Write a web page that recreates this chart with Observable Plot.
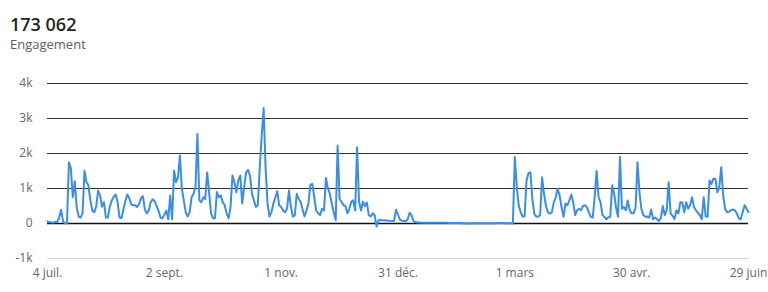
<!DOCTYPE html>
<html><head><meta charset="utf-8">
<script src="https://cdn.jsdelivr.net/npm/d3@7"></script>
<script src="https://cdn.jsdelivr.net/npm/@observablehq/plot@0.6"></script>
<style>
body{margin:0;background:#fff;font-family:"Segoe UI","Open Sans",sans-serif;}
#head{height:60px;position:relative;}
#title{position:absolute;left:10px;top:15px;font-size:18px;line-height:1;font-weight:600;color:#252423;}
#sub{position:absolute;left:10px;top:38px;font-size:13px;line-height:1;color:#605e5c;}
#chart svg{display:block;}
</style></head><body>
<div id="head"><div id="title">173 062</div><div id="sub">Engagement</div></div>
<div id="chart"></div>
<script>
const startDate = [2022, 6, 4]; // 4 juil. 2022, one value per day
const values = [
  60,40,30,30,40,50,170,390,60,10,
  10,1750,1580,750,1210,470,200,170,290,1500,
  1180,1100,660,370,320,480,940,800,480,610,
  170,170,470,660,760,830,610,170,150,400,
  650,830,720,550,520,520,470,550,720,780,
  400,290,370,610,690,640,500,370,170,150,
  250,370,120,800,120,1510,1180,1320,1940,990,
  660,320,200,320,750,850,1040,2560,660,610,
  750,700,1460,890,290,150,150,900,750,800,
  610,520,290,150,470,1370,1180,890,1230,1370,
  570,1040,1460,1530,1370,850,660,470,520,1600,
  2500,3300,1600,570,200,320,570,750,920,520,
  470,370,320,420,940,470,200,230,850,700,
  620,400,200,370,570,1110,1130,750,370,290,
  240,420,370,1300,1000,850,570,320,90,2230,
  700,620,520,500,290,420,620,660,370,2180,
  620,370,620,500,600,240,200,290,240,-86,
  90,100,90,90,85,80,75,70,80,390,
  250,110,80,70,70,120,310,230,70,40,
  30,30,25,25,25,20,20,20,20,25,
  25,20,20,20,20,20,15,15,15,15,
  15,20,15,10,5,0,0,5,10,5,
  5,10,10,10,10,10,5,5,5,10,
  10,15,15,15,15,10,10,5,5,0,
  1900,1040,520,320,200,200,1230,1440,1460,700,
  280,200,190,240,1320,850,500,320,280,320,
  600,750,990,800,470,190,570,520,660,830,
  600,240,380,420,380,500,520,470,320,190,
  170,750,1500,750,610,240,190,120,180,190,
  1090,850,450,190,1900,420,470,380,660,380,
  290,290,450,1750,890,420,240,190,200,170,
  400,120,170,120,70,150,500,240,380,1180,
  290,220,130,380,290,610,600,320,610,420,
  520,750,470,380,300,240,120,750,200,190,
  1230,1130,1280,1280,890,1040,1610,800,420,320,
  340,380,400,380,290,150,120,320,520,420,
  330
];
const xTickDates = ["2022-07-04","2022-09-02","2022-11-01","2022-12-31","2023-03-01","2023-04-30","2023-06-29"];
const xTickLabels = ["4 juil.","2 sept.","1 nov.","31 déc.","1 mars","30 avr.","29 juin"];
const yTicks = [-1000, 0, 1000, 2000, 3000, 4000];
const yTickLabels = ["-1k","0","1k","2k","3k","4k"];

const data = values.map((v, i) => ({date: new Date(Date.UTC(startDate[0], startDate[1], startDate[2] + i)), value: v}));
const xDates = xTickDates.map(s => new Date(s + "T00:00:00Z"));
const xLabelMap = new Map(xDates.map((d, i) => [+d, xTickLabels[i]]));
const yLabelMap = new Map(yTicks.map((t, i) => [t, yTickLabels[i]]));

const chart = Plot.plot({
  width: 768, height: 232,
  marginLeft: 47, marginRight: 20, marginTop: 23, marginBottom: 34,
  style: {fontFamily: '"Segoe UI","Open Sans",sans-serif', fontSize: "12px", color: "#666", background: "white", overflow: "visible"},
  x: {type: "utc", domain: [xDates[0], xDates[xDates.length - 1]], ticks: xDates, tickFormat: d => xLabelMap.get(+d), tickSize: 0, tickPadding: 10, label: null},
  y: {domain: [-1000, 4000], ticks: yTicks, tickFormat: d => yLabelMap.get(d), tickSize: 0, tickPadding: 15, label: null},
  marks: [
    Plot.ruleY(yTicks.filter(t => t > 0), {stroke: "#333", strokeWidth: 1}),
    Plot.ruleY([0], {stroke: "#111", strokeWidth: 1.3}),
    Plot.ruleY([-1000], {stroke: "#c6d6ef", strokeWidth: 1}),
    Plot.line(data, {x: "date", y: "value", stroke: "#3a8de8", strokeWidth: 2})
  ]
});
document.getElementById("chart").appendChild(chart);
</script></body></html>
